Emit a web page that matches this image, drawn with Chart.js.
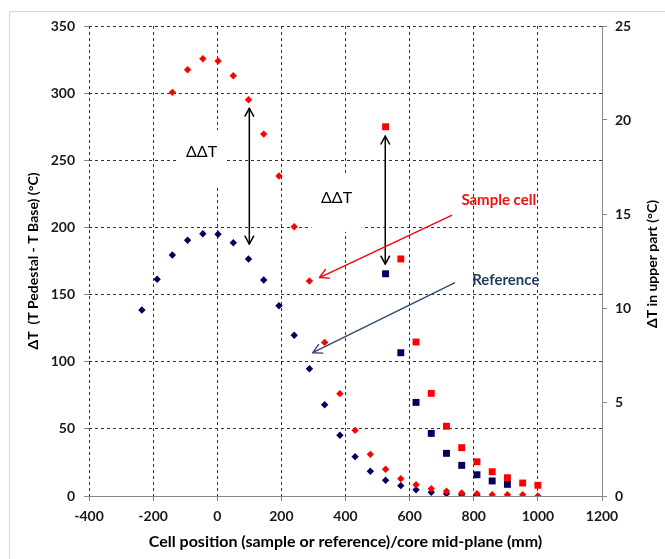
<!DOCTYPE html>
<html><head><meta charset="utf-8">
<script src="https://cdn.jsdelivr.net/npm/chart.js@4.4.1/dist/chart.umd.min.js"></script>
<style>
html,body{margin:0;padding:0;background:#fff;}
#wrap{position:relative;width:665px;height:559px;overflow:hidden;}
#frame{position:absolute;left:9px;top:11px;width:700px;height:600px;border-left:1px solid #d9d9d9;border-top:1px solid #d9d9d9;pointer-events:none;}
canvas{position:absolute;left:0;top:0;}
</style></head><body>
<div id="wrap"><canvas id="c" width="665" height="559"></canvas><div id="frame"></div></div>
<script>
// ---- data ----
const sampleX   = [-140, -92.5, -45, 2.5, 50, 97.5, 145, 192.5, 240, 287.5, 335, 382.5, 430, 477.5, 525, 572.5, 620, 667.5, 715, 762.5, 810, 857.5, 905, 952.5, 1000];
const sampleDT  = [300.6, 317.4, 325.6, 323.9, 313, 295.1, 269.5, 238.3, 200.5, 160.1, 114.4, 76.2, 48.9, 31, 19.9, 12.9, 8.4, 5.4, 3.5, 2.2, 1.7, 1, 1, 1, 0];
const refX      = [-235, -187.5, -140, -92.5, -45, 2.5, 50, 97.5, 145, 192.5, 240, 287.5, 335, 382.5, 430, 477.5, 525, 572.5, 620, 667.5, 715, 762.5, 810];
const refDT     = [138.5, 161.4, 179.5, 190.4, 195.3, 194.9, 188.6, 176.5, 160.8, 141.7, 119.7, 94.8, 68, 45.2, 29.3, 18.4, 11.7, 7.7, 4.7, 2.8, 1.7, 1, 0.5];
const upperX        = [525, 572.5, 620, 667.5, 715, 762.5, 810, 857.5, 905, 952.5, 1000];
const sampleUpper   = [19.64, 12.61, 8.19, 5.46, 3.71, 2.57, 1.82, 1.29, 0.97, 0.69, 0.57];
const refUpperX     = [525, 572.5, 620, 667.5, 715, 762.5, 810, 857.5, 905];
const refUpper      = [11.82, 7.62, 4.98, 3.33, 2.27, 1.63, 1.13, 0.8, 0.62];

const xTicks  = [-400, -200, 0, 200, 400, 600, 800, 1000, 1200];
const yTicks  = [0, 50, 100, 150, 200, 250, 300, 350];
const y2Ticks = [0, 5, 10, 15, 20, 25];

// annotations (data coordinates, left axis)
const ddtText   = ['ΔΔT', 'ΔΔT'];
const ddtX      = [-49, 372];
const ddtY      = [256, 222];
const dblArrowX = [100, 524];
const dblArrowY1 = [288.7, 268];
const dblArrowY2 = [187.6, 172.7];
const pointerFrom = [[731, 209], [740, 158.8]];
const pointerTo   = [[319, 162.7], [298, 106.7]];
const calloutText = ['Sample cell', 'Reference'];
const calloutPos  = [[878, 220.4], [900, 160.8]];

const leftTitle  = 'ΔT  (T Pedestal - T Base) (°C)';
const rightTitle = 'ΔT in upper part (°C)';
const xTitle     = 'Cell position (sample or reference)/core mid-plane (mm)';

// ---- styles ----
const RED = '#ff0000', NAVY = '#00005e';
const FONT = 'Lato, "Open Sans", sans-serif';
const pts = (xs, ys) => xs.map((x, i) => ({x: x, y: ys[i]}));

const annot = {
  id: 'annot',
  beforeDatasetsDraw(chart) {
    const ctx = chart.ctx, xs = chart.scales.x, ys = chart.scales.y;
    ctx.save();
    ctx.font = '16px ' + FONT;
    ctx.textAlign = 'center'; ctx.textBaseline = 'middle';
    for (let i = 0; i < ddtText.length; i++) {
      const px = xs.getPixelForValue(ddtX[i]), py = ys.getPixelForValue(ddtY[i]);
      ctx.fillStyle = '#fff';
      ctx.fillRect(px - 25, py - 22, 50, 56);
      ctx.fillStyle = '#000';
      ctx.fillText(ddtText[i], px, py);
    }
    ctx.restore();
  },
  afterDatasetsDraw(chart) {
    const ctx = chart.ctx, xs = chart.scales.x, ys = chart.scales.y;
    const head = (x1, y1, x2, y2, len) => {
      const a = Math.atan2(y2 - y1, x2 - x1);
      ctx.beginPath();
      ctx.moveTo(x2 - len * Math.cos(a - 0.5), y2 - len * Math.sin(a - 0.5));
      ctx.lineTo(x2, y2);
      ctx.lineTo(x2 - len * Math.cos(a + 0.5), y2 - len * Math.sin(a + 0.5));
      ctx.stroke();
    };
    ctx.save();
    ctx.lineCap = 'round'; ctx.lineJoin = 'round';
    // double arrows
    ctx.strokeStyle = '#000'; ctx.lineWidth = 1.5;
    for (let i = 0; i < dblArrowX.length; i++) {
      const px = xs.getPixelForValue(dblArrowX[i]);
      const p1 = ys.getPixelForValue(dblArrowY1[i]), p2 = ys.getPixelForValue(dblArrowY2[i]);
      ctx.beginPath(); ctx.moveTo(px, p1); ctx.lineTo(px, p2); ctx.stroke();
      head(px, p2, px, p1, 9); head(px, p1, px, p2, 9);
    }
    // pointers
    const pColors = [RED, '#2e4a6b'];
    for (let i = 0; i < pointerFrom.length; i++) {
      const x1 = xs.getPixelForValue(pointerFrom[i][0]), y1 = ys.getPixelForValue(pointerFrom[i][1]);
      const x2 = xs.getPixelForValue(pointerTo[i][0]), y2 = ys.getPixelForValue(pointerTo[i][1]);
      ctx.strokeStyle = pColors[i]; ctx.lineWidth = 1.4;
      ctx.beginPath(); ctx.moveTo(x1, y1); ctx.lineTo(x2, y2); ctx.stroke();
      head(x1, y1, x2, y2, 10);
    }
    // callout texts
    const cColors = ['#ee1111', '#1f3a5f'];
    ctx.font = 'bold 15px ' + FONT;
    ctx.textAlign = 'center'; ctx.textBaseline = 'middle';
    for (let i = 0; i < calloutText.length; i++) {
      ctx.fillStyle = cColors[i];
      ctx.fillText(calloutText[i], xs.getPixelForValue(calloutPos[i][0]), ys.getPixelForValue(calloutPos[i][1]));
    }
    // right axis title (reads bottom to top)
    const ca = chart.chartArea;
    ctx.translate(652, (ca.top + ca.bottom) / 2 + 3);
    ctx.rotate(-Math.PI / 2);
    ctx.font = 'bold 14px ' + FONT;
    ctx.fillStyle = '#000';
    ctx.fillText(rightTitle, 0, 0);
    ctx.restore();
  }
};

const gridCol = '#333333', axisCol = '#868686', tickCol = '#1a1a1a';

new Chart(document.getElementById('c'), {
  type: 'scatter',
  data: {
    datasets: [
      {label: 'Sample cell', data: pts(sampleX, sampleDT), yAxisID: 'y', pointStyle: 'rectRot', radius: 3.7, backgroundColor: RED, borderColor: RED, borderWidth: 0},
      {label: 'Sample upper', data: pts(upperX, sampleUpper), yAxisID: 'y2', pointStyle: 'rect', radius: 4.9, backgroundColor: RED, borderColor: RED, borderWidth: 0},
      {label: 'Reference upper', data: pts(refUpperX, refUpper), yAxisID: 'y2', pointStyle: 'rect', radius: 4.9, backgroundColor: NAVY, borderColor: NAVY, borderWidth: 0},
      {label: 'Reference', data: pts(refX, refDT), yAxisID: 'y', pointStyle: 'rectRot', radius: 3.7, backgroundColor: NAVY, borderColor: NAVY, borderWidth: 0}
    ]
  },
  options: {
    responsive: false,
    devicePixelRatio: 1,
    animation: false,
    layout: {padding: {top: 26, left: 0, right: 0, bottom: 0}},
    plugins: {legend: {display: false}, tooltip: {enabled: false}},
    elements: {point: {hoverRadius: 4}},
    scales: {
      x: {
        type: 'linear', min: -400, max: 1200,
        afterBuildTicks: s => { s.ticks = xTicks.map(v => ({value: v})); },
        afterFit: s => { s.height = 63; },
        ticks: {callback: v => String(v), color: tickCol, padding: 7, maxRotation: 0, font: {family: FONT, size: 14, weight: 'bold'}},
        grid: {color: c => (c.tick && c.tick.value === 1200) ? 'rgba(0,0,0,0)' : gridCol, tickColor: axisCol, tickLength: 5, tickBorderDash: [], lineWidth: 1},
        border: {display: true, color: axisCol, width: 1, dash: [3, 3]},
        title: {display: true, text: xTitle, color: '#000', font: {family: FONT, size: 16, weight: 'bold'}, padding: {top: 0, bottom: 8}}
      },
      y: {
        type: 'linear', position: 'left', min: 0, max: 350,
        afterBuildTicks: s => { s.ticks = yTicks.map(v => ({value: v})); },
        afterFit: s => { s.width = 89; },
        ticks: {callback: v => String(v), color: tickCol, padding: 9, font: {family: FONT, size: 14, weight: 'bold'}},
        grid: {color: c => (c.tick && c.tick.value === 0) ? 'rgba(0,0,0,0)' : gridCol, tickColor: axisCol, tickLength: 5, tickBorderDash: [], lineWidth: 1},
        border: {display: false, dash: [3, 3]},
        title: {display: true, text: leftTitle, color: '#000', font: {family: FONT, size: 14, weight: 'bold'}, padding: {top: 25, bottom: 0}}
      },
      y2: {
        type: 'linear', position: 'right', min: 0, max: 25,
        afterBuildTicks: s => { s.ticks = y2Ticks.map(v => ({value: v})); },
        afterFit: s => { s.width = 63; },
        ticks: {callback: v => String(v), color: tickCol, padding: 8, font: {family: FONT, size: 14, weight: 'bold'}},
        grid: {drawOnChartArea: false, color: axisCol, tickColor: axisCol, tickLength: 5},
        border: {display: true, color: axisCol, width: 1}
      }
    }
  },
  plugins: [annot]
});
</script>
</body></html>
